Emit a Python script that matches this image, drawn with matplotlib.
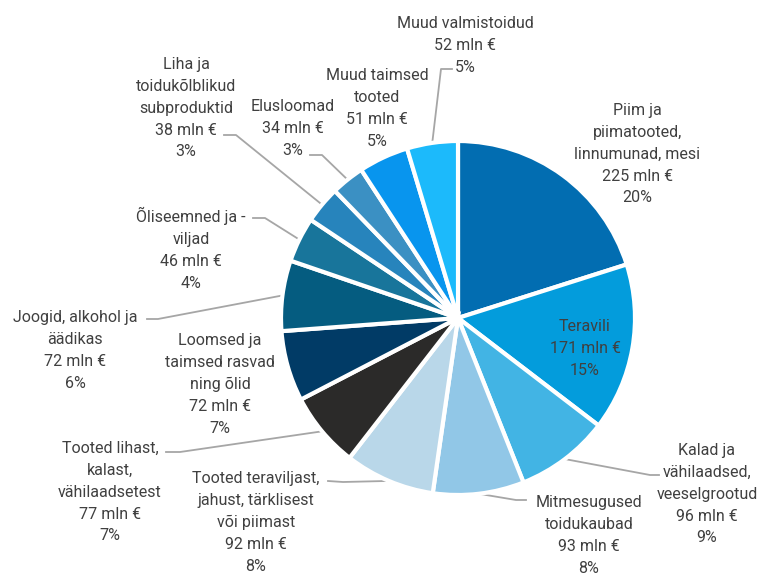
import numpy as np
import matplotlib
matplotlib.use("Agg")
import matplotlib.pyplot as plt

plt.rcParams["font.family"] = ["Roboto", "DejaVu Sans"]

# clockwise from 12 o'clock
categories = [
    "Piim ja\npiimatooted,\nlinnumunad, mesi",
    "Teravili",
    "Kalad ja\nvähilaadsed,\nveeselgrootud",
    "Mitmesugused\ntoidukaubad",
    "Tooted teraviljast,\njahust, tärklisest\nvõi piimast",
    "Tooted lihast,\nkalast,\nvähilaadsetest",
    "Loomsed ja\ntaimsed rasvad\nning õlid",
    "Joogid, alkohol ja\näädikas",
    "Õliseemned ja -\nviljad",
    "Liha ja\ntoidukõlblikud\nsubproduktid",
    "Elusloomad",
    "Muud taimsed\ntooted",
    "Muud valmistoidud",
]
values = [225, 171, 96, 93, 92, 77, 72, 72, 46, 38, 34, 51, 52]
shares = [20, 15, 9, 8, 8, 7, 7, 6, 4, 3, 3, 5, 5]
colors = ["#026DB1", "#039CDC", "#42B4E4", "#91C7E7", "#B9D7E9", "#2B2A29",
          "#013B66", "#055C80", "#18759B", "#2784BC", "#3B90C3", "#0895EE", "#1CBAFB"]

W, H = 762, 574
# label layout in image pixels: (center x, first line y, leader elbow) ; None = no leader
layout = [
    (637, 108, None),
    (585, 324, None),
    (707, 448, [(650, 475), (659, 475)]),
    (589, 500, [(516, 500), (526, 500)]),
    (256, 476, [(343, 482), (328, 481)]),
    (110, 446, [(180, 452), (166, 452)]),
    (220, 338, None),
    (75, 315, [(158, 319), (147, 319)]),
    (191, 212, [(265, 218), (253, 218)]),
    (186, 62, [(236, 135), (224, 135)]),
    (293, 104, [(322, 155), (310, 155)]),
    (377, 73, None),
    (465, 21, [(441, 69), (452, 69)]),
]

cx, cy, r = 458, 318, 177

fig = plt.figure(figsize=(W / 100, H / 100), dpi=100)
ax = fig.add_axes([0, 0, 1, 1])
ax.set_xlim(0, W)
ax.set_ylim(0, H)
ax.axis("off")

wedges, _ = ax.pie(values, colors=colors, startangle=90, counterclock=False,
                   center=(cx, H - cy), radius=r,
                   wedgeprops=dict(edgecolor="white", linewidth=3))
ax.set_xlim(0, W)
ax.set_ylim(0, H)

txt_color = "#404040"
for w, cat, v, s, (lx, ly, leader) in zip(wedges, categories, values, shares, layout):
    ax.text(lx, H - ly + 5, f"{cat}\n{v} mln €\n{s}%", ha="center", va="top",
            fontsize=11.5, color=txt_color, linespacing=1.57)
    if leader is not None:
        mid = np.deg2rad((w.theta1 + w.theta2) / 2)
        ax_x = cx + r * np.cos(mid)
        ax_y = H - cy + r * np.sin(mid)
        xs = [ax_x] + [p[0] for p in leader]
        ys = [ax_y] + [H - p[1] for p in leader]
        ax.plot(xs, ys, color="#A6A6A6", linewidth=1.3, zorder=0.5)

fig.savefig("out.png", dpi=100)
